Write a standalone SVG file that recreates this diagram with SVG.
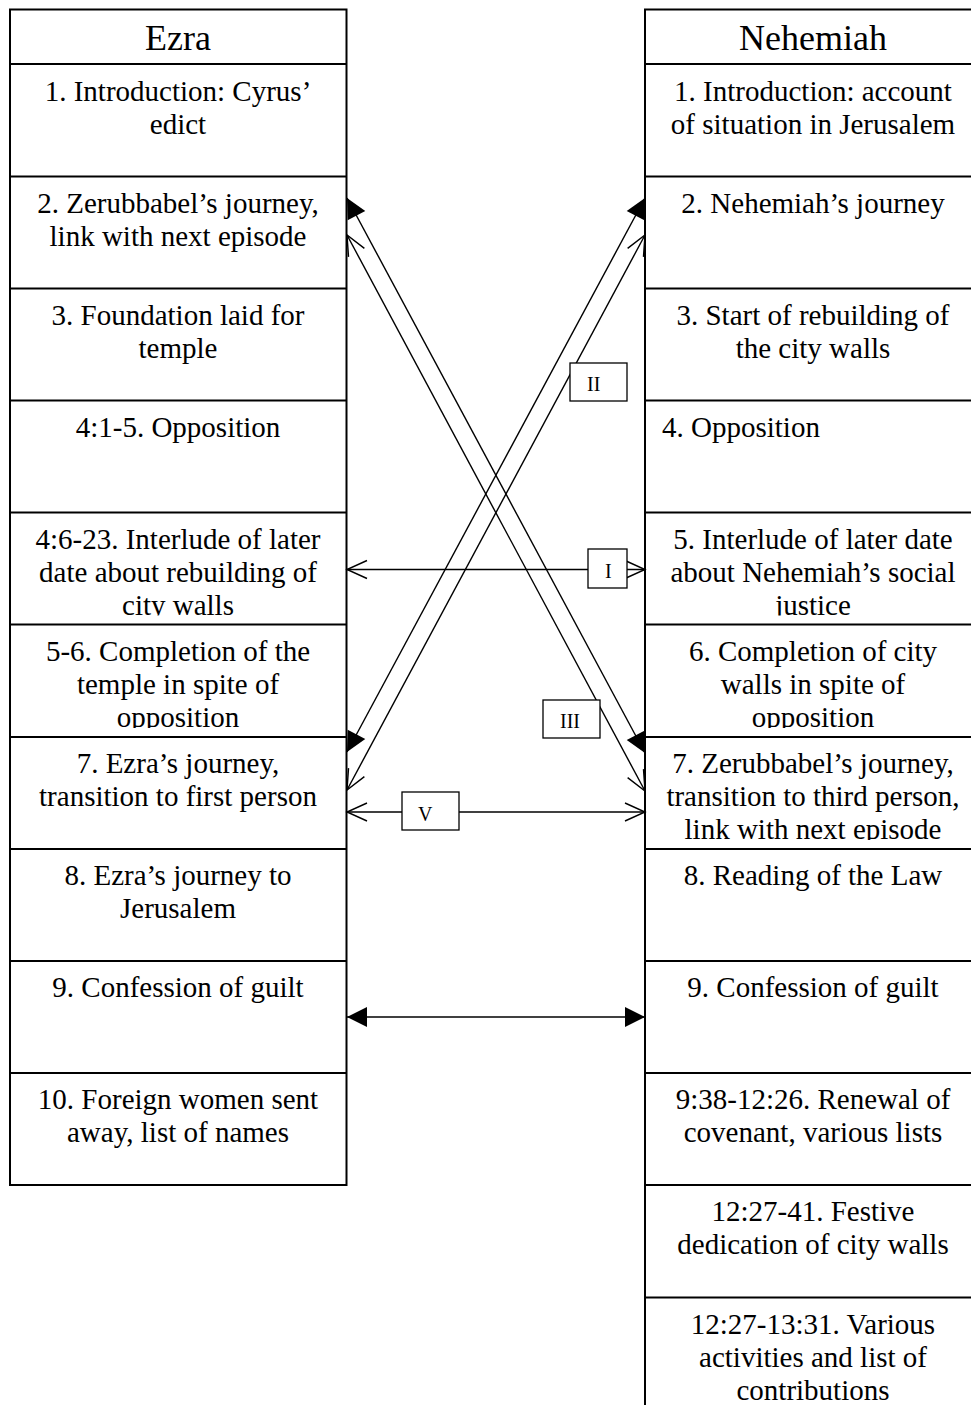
<svg xmlns="http://www.w3.org/2000/svg" width="971" height="1405" viewBox="0 0 971 1405">
<style>
.col{fill:#fff;stroke:#000;stroke-width:2}
.sep{stroke:#000;stroke-width:2}
.hd{font-family:"Liberation Serif","Times New Roman",serif;font-size:36px;fill:#000;text-anchor:middle}
.t{font-family:"Liberation Serif","Times New Roman",serif;font-size:29px;fill:#000;text-anchor:middle}
.tl{font-family:"Liberation Serif","Times New Roman",serif;font-size:29px;fill:#000;text-anchor:start}
.lb{fill:#fff;stroke:#000;stroke-width:1.3}
.lt{font-family:"Liberation Serif","Times New Roman",serif;font-size:20px;fill:#000}
.cf{stroke:#000;stroke-width:1.4;fill:none;marker-start:url(#fa);marker-end:url(#fa)}
.co{stroke:#000;stroke-width:1.4;fill:none;marker-start:url(#oa);marker-end:url(#oa)}
</style>
<defs>
<marker id="fa" markerUnits="userSpaceOnUse" markerWidth="22" markerHeight="22" refX="20" refY="10" orient="auto-start-reverse" overflow="visible">
<path d="M0,0 L20,10 L0,20 Z" fill="#000"/>
</marker>
<marker id="oa" markerUnits="userSpaceOnUse" markerWidth="22" markerHeight="22" refX="20" refY="10" orient="auto-start-reverse" overflow="visible">
<path d="M0,1 L20,10 L0,19" fill="none" stroke="#000" stroke-width="1.4"/>
</marker>
<clipPath id="c5" clipPathUnits="userSpaceOnUse"><rect x="0" y="512.5" width="971" height="103"/></clipPath>
<clipPath id="c6" clipPathUnits="userSpaceOnUse"><rect x="0" y="624.5" width="971" height="103.5"/></clipPath>
<clipPath id="c7" clipPathUnits="userSpaceOnUse"><rect x="0" y="737" width="971" height="103"/></clipPath>
</defs>

<g id="ezra">
<rect class="col" x="10" y="9.5" width="336.5" height="1175.5"/>
<g class="sep">
<line x1="10" y1="64" x2="346.5" y2="64"/>
<line x1="10" y1="176.5" x2="346.5" y2="176.5"/>
<line x1="10" y1="288.5" x2="346.5" y2="288.5"/>
<line x1="10" y1="400.5" x2="346.5" y2="400.5"/>
<line x1="10" y1="512.5" x2="346.5" y2="512.5"/>
<line x1="10" y1="624.5" x2="346.5" y2="624.5"/>
<line x1="10" y1="737" x2="346.5" y2="737"/>
<line x1="10" y1="849" x2="346.5" y2="849"/>
<line x1="10" y1="961" x2="346.5" y2="961"/>
<line x1="10" y1="1073" x2="346.5" y2="1073"/>
</g>
<text class="hd" x="178" y="50">Ezra</text>
<g id="ezra-1"><text class="t" x="178" y="100.5">1. Introduction: Cyrus’</text><text class="t" x="178" y="133.5">edict</text></g>
<g id="ezra-2"><text class="t" x="178" y="212.5">2. Zerubbabel’s journey,</text><text class="t" x="178" y="245.5">link with next episode</text></g>
<g id="ezra-3"><text class="t" x="178" y="324.5">3. Foundation laid for</text><text class="t" x="178" y="357.5">temple</text></g>
<g id="ezra-4"><text class="t" x="178" y="436.5">4:1-5. Opposition</text></g>
<g id="ezra-5" clip-path="url(#c5)"><text class="t" x="178" y="548.5">4:6-23. Interlude of later</text><text class="t" x="178" y="581.5">date about rebuilding of</text><text class="t" x="178" y="614.5">city walls</text></g>
<g id="ezra-6" clip-path="url(#c6)"><text class="t" x="178" y="660.5">5-6. Completion of the</text><text class="t" x="178" y="693.5">temple in spite of</text><text class="t" x="178" y="726.5">opposition</text></g>
<g id="ezra-7"><text class="t" x="178" y="773">7. Ezra’s journey,</text><text class="t" x="178" y="806">transition to first person</text></g>
<g id="ezra-8"><text class="t" x="178" y="885">8. Ezra’s journey to</text><text class="t" x="178" y="918">Jerusalem</text></g>
<g id="ezra-9"><text class="t" x="178" y="997">9. Confession of guilt</text></g>
<g id="ezra-10"><text class="t" x="178" y="1109">10. Foreign women sent</text><text class="t" x="178" y="1142">away, list of names</text></g>
</g>

<g id="nehemiah">
<rect class="col" x="645" y="9.5" width="340" height="1420"/>
<g class="sep">
<line x1="645" y1="64" x2="985" y2="64"/>
<line x1="645" y1="176.5" x2="985" y2="176.5"/>
<line x1="645" y1="288.5" x2="985" y2="288.5"/>
<line x1="645" y1="400.5" x2="985" y2="400.5"/>
<line x1="645" y1="512.5" x2="985" y2="512.5"/>
<line x1="645" y1="624.5" x2="985" y2="624.5"/>
<line x1="645" y1="737" x2="985" y2="737"/>
<line x1="645" y1="849" x2="985" y2="849"/>
<line x1="645" y1="961" x2="985" y2="961"/>
<line x1="645" y1="1073" x2="985" y2="1073"/>
<line x1="645" y1="1185" x2="985" y2="1185"/>
<line x1="645" y1="1297.5" x2="985" y2="1297.5"/>
</g>
<text class="hd" x="813" y="50">Nehemiah</text>
<g id="neh-1"><text class="t" x="813" y="100.5">1. Introduction: account</text><text class="t" x="813" y="133.5">of situation in Jerusalem</text></g>
<g id="neh-2"><text class="t" x="813" y="212.5">2. Nehemiah’s journey</text></g>
<g id="neh-3"><text class="t" x="813" y="324.5">3. Start of rebuilding of</text><text class="t" x="813" y="357.5">the city walls</text></g>
<g id="neh-4"><text class="tl" x="662" y="436.5">4. Opposition</text></g>
<g id="neh-5" clip-path="url(#c5)"><text class="t" x="813" y="548.5">5. Interlude of later date</text><text class="t" x="813" y="581.5">about Nehemiah’s social</text><text class="t" x="813" y="614.5">justice</text></g>
<g id="neh-6" clip-path="url(#c6)"><text class="t" x="813" y="660.5">6. Completion of city</text><text class="t" x="813" y="693.5">walls in spite of</text><text class="t" x="813" y="726.5">opposition</text></g>
<g id="neh-7" clip-path="url(#c7)"><text class="t" x="813" y="773">7. Zerubbabel’s journey,</text><text class="t" x="813" y="806">transition to third person,</text><text class="t" x="813" y="839">link with next episode</text></g>
<g id="neh-8"><text class="t" x="813" y="885">8. Reading of the Law</text></g>
<g id="neh-9"><text class="t" x="813" y="997">9. Confession of guilt</text></g>
<g id="neh-10"><text class="t" x="813" y="1109">9:38-12:26. Renewal of</text><text class="t" x="813" y="1142">covenant, various lists</text></g>
<g id="neh-11"><text class="t" x="813" y="1221">12:27-41. Festive</text><text class="t" x="813" y="1254">dedication of city walls</text></g>
<g id="neh-12"><text class="t" x="813" y="1333.5">12:27-13:31. Various</text><text class="t" x="813" y="1366.5">activities and list of</text><text class="t" x="813" y="1399.5">contributions</text></g>
</g>

<g id="connectors">
<line class="cf" x1="347" y1="198" x2="645" y2="753"/>
<line class="co" x1="347" y1="235" x2="645" y2="791"/>
<line class="cf" x1="645" y1="198" x2="347" y2="752"/>
<line class="co" x1="645" y1="235" x2="347" y2="790"/>
<line class="co" x1="347" y1="569.5" x2="645" y2="569.5"/>
<line class="co" x1="347" y1="812" x2="645" y2="812"/>
<line class="cf" x1="347" y1="1017" x2="645" y2="1017"/>
</g>

<g id="label-II"><rect class="lb" x="570" y="363" width="57" height="38"/><text class="lt" x="587" y="391">II</text></g>
<g id="label-I"><rect class="lb" x="588" y="549" width="39" height="39"/><text class="lt" x="605" y="578">I</text></g>
<g id="label-III"><rect class="lb" x="543" y="700" width="57" height="38"/><text class="lt" x="560" y="728">III</text></g>
<g id="label-V"><rect class="lb" x="402" y="792" width="57" height="38"/><text class="lt" x="418" y="821">V</text></g>
</svg>
